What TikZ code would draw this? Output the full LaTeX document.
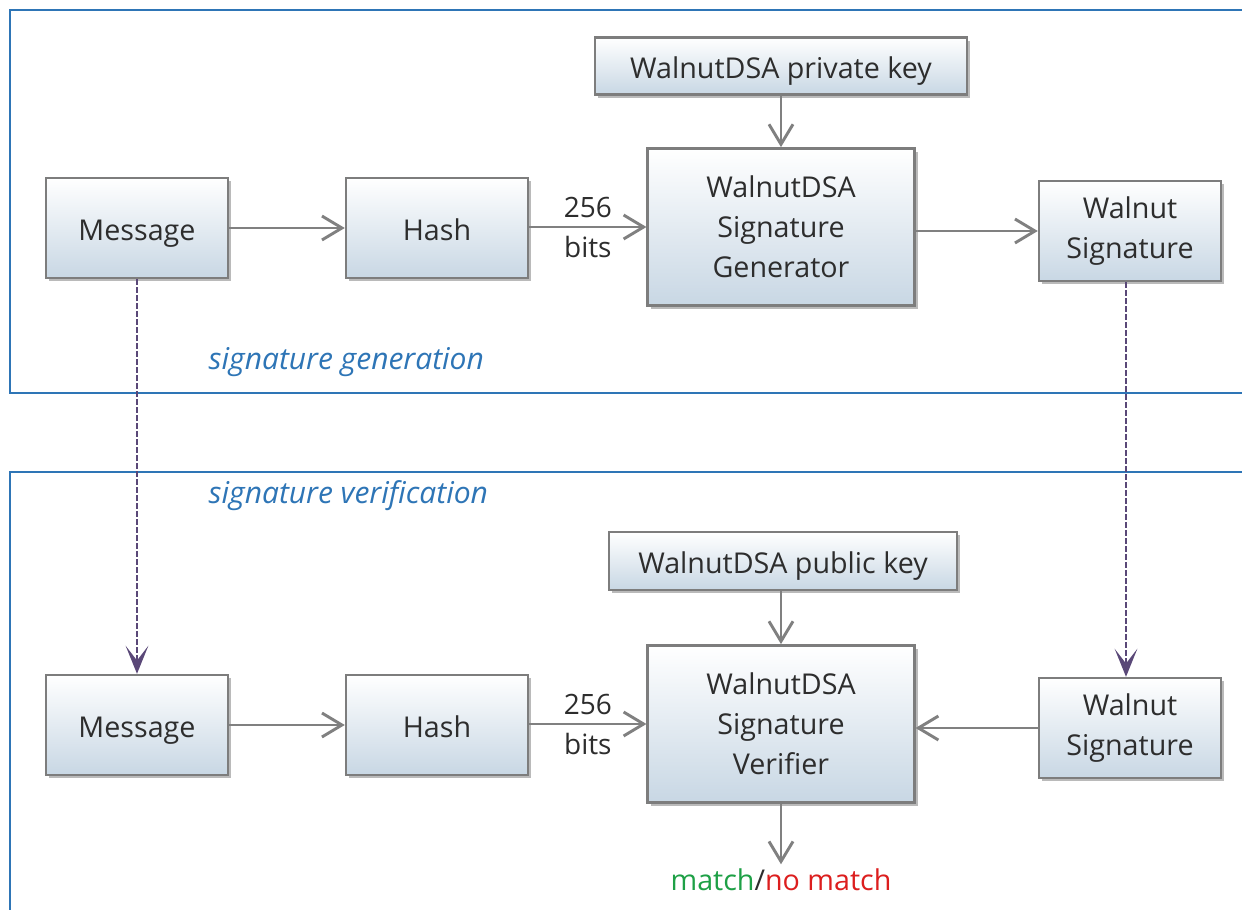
\documentclass[tikz,border=0pt]{standalone}
\usepackage{fontspec}
\setmainfont{Open Sans}
\usepackage{tikz}
\usetikzlibrary{arrows.meta,shadows}

\definecolor{framecol}{RGB}{46,117,182}
\definecolor{boxedge}{RGB}{125,125,125}
\definecolor{boxbot}{RGB}{200,215,228}
\definecolor{arrcol}{RGB}{128,128,128}
\definecolor{dashcol}{RGB}{90,72,120}
\definecolor{textcol}{RGB}{45,45,45}
\definecolor{matchcol}{RGB}{30,160,70}
\definecolor{nomatchcol}{RGB}{220,30,30}

\tikzset{
  blockbox/.style={draw=boxedge, line width=1.8pt, top color=white, bottom color=boxbot,
    drop shadow={shadow xshift=2.5pt, shadow yshift=-2.5pt, opacity=0.45, fill=black!60},
    align=center, text=textcol, font=\fontsize{21.5}{30}\selectfont, inner sep=2pt},
  oneline/.style={text height=21pt, text depth=3pt},
  flow/.style={draw=arrcol, line width=1.5pt,
    -{Straight Barb[length=15pt,width=18pt,line width=2.2pt]}},
  link/.style={draw=dashcol, line width=1.2pt, dash pattern={on 4pt off 2pt},
    -{Stealth[length=21pt,width=17pt,inset=11pt]}},
  frameline/.style={draw=framecol, line width=1.5pt},
  stagetext/.style={text=framecol, font=\fontsize{22.5}{26}\selectfont\itshape},
  bitstext/.style={align=center, text=textcol, font=\fontsize{21}{30}\selectfont}
}

\begin{document}
\begin{tikzpicture}[x=0.75pt,y=0.75pt,yscale=-1,xscale=1]
\useasboundingbox (0,0) rectangle (1242,910);

% frames
\draw [frameline] (1242,10) -- (10,10) -- (10,393) -- (1242,393) ;
\draw [frameline] (1242,472) -- (10,472) -- (10,910) ;

% signature generation
\node [blockbox, oneline, minimum width=136.5pt, minimum height=75pt] (msgA) at (137,228) {Message};
\node [blockbox, oneline, minimum width=136.5pt, minimum height=75pt] (hashA) at (437,228) {Hash};
\node [blockbox, oneline, minimum width=279pt, minimum height=43pt] (privkey) at (781,66) {WalnutDSA private key};
\node [blockbox, minimum width=200pt, minimum height=118pt] (gen) at (781,227) {WalnutDSA\\Signature\\Generator};
\node [blockbox, minimum width=136.5pt, minimum height=75pt] (sigA) at (1130,231) {Walnut\\Signature};
\node [stagetext, anchor=west] (genlabel) at (204,362) {signature generation};

\draw [flow] (msgA) -- (hashA) ;
\draw [flow] (hashA.east |- gen.west) -- node [bitstext] (bitsA) {256\\bits} (gen.west) ;
\draw [flow] (privkey) -- (gen) ;
\draw [flow] (gen.east |- sigA.west) -- (sigA.west) ;

% signature verification
\node [stagetext, anchor=west] (verlabel) at (204,496) {signature verification};
\node [blockbox, oneline, minimum width=136.5pt, minimum height=75pt] (msgB) at (137,725) {Message};
\node [blockbox, oneline, minimum width=136.5pt, minimum height=75pt] (hashB) at (437,725) {Hash};
\node [blockbox, oneline, minimum width=261pt, minimum height=43.5pt] (pubkey) at (783,561) {WalnutDSA public key};
\node [blockbox, minimum width=200pt, minimum height=118pt] (ver) at (781,724) {WalnutDSA\\Signature\\Verifier};
\node [blockbox, minimum width=136.5pt, minimum height=75pt] (sigB) at (1130,728) {Walnut\\Signature};
\node [font=\fontsize{21.5}{26}\selectfont] (result) at (781,880)
  {\textcolor{matchcol}{match}\textcolor{textcol}{/}\textcolor{nomatchcol}{no match}};

\draw [flow] (msgB) -- (hashB) ;
\draw [flow] (hashB.east |- ver.west) -- node [bitstext] (bitsB) {256\\bits} (ver.west) ;
\draw [flow] (pubkey.south -| ver.north) -- (ver.north) ;
\draw [flow] (sigB.west) -- (sigB.west -| ver.east) ;
\draw [flow] (ver) -- (result) ;

% carried over
\draw [link] (msgA) -- (msgB) ;
\draw [link] ([xshift=-3pt]sigA.south) -- ([xshift=-3pt]sigB.north) ;

\end{tikzpicture}
\end{document}
